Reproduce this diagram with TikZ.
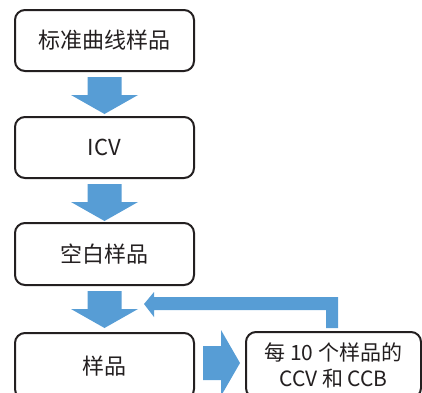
\documentclass[tikz,border=0pt]{standalone}
\usepackage{fontspec}
\setmainfont{Noto Sans CJK SC}
\usetikzlibrary{calc}
\definecolor{boxline}{RGB}{35,31,32}
\definecolor{arrowblue}{RGB}{87,157,213}
\definecolor{textc}{RGB}{35,31,32}
\begin{document}
\begin{tikzpicture}[x=1pt,y=-1pt,
  box/.style={draw=boxline, line width=2pt, rounded corners=10pt, fill=white,
    inner sep=0pt, text=textc},
  bigtxt/.style={font=\fontsize{22}{26}\selectfont},
  smalltxt/.style={font=\fontsize{21}{26}\selectfont, align=center},
  blk/.style={fill=arrowblue, draw=none}]
\useasboundingbox (0,0) rectangle (422,392);
\begin{scope}
\clip (0,0) rectangle (422,392);
\node[box, bigtxt, minimum width=179pt, minimum height=61pt] (b1) at (104.5,40.5) {标准曲线样品};
\node[box, bigtxt, minimum width=179pt, minimum height=61pt] (b2) at (104.5,147.5) {ICV};
\node[box, bigtxt, minimum width=179pt, minimum height=62pt] (b3) at (104.5,254) {空白样品};
\node[box, bigtxt, minimum width=179pt, minimum height=66pt] (b4) at (104.5,366) {样品};
\node[box, smalltxt, minimum width=175pt, minimum height=66pt] (b5) at (333.5,365) {每 10 个样品的\\CCV 和 CCB};
% down arrows
\foreach \a in {b1,b2,b3}{
  \begin{scope}[shift={($(\a.south)+(0,5)$)}]
    \fill[blk] (-17,0) -- (17,0) -- (17,18) -- (33.5,18) -- (0,37) -- (-33.5,18) -- (-17,18) -- cycle;
  \end{scope}
}
% right arrow
\begin{scope}[shift={($(b4.east)+(8,-3)$)}]
  \fill[blk] (0,-17) -- (18,-17) -- (18,-33) -- (37,0) -- (18,33) -- (18,17) -- (0,17) -- cycle;
\end{scope}
% feedback arrow
\begin{scope}[shift={($(b5.north)+(-1.5,-3)$)}]
  \fill[blk] (6,0) -- (6,-31) -- (-178,-31) -- (-178,-36) -- (-188,-24) -- (-178,-11) -- (-178,-18) -- (-6,-18) -- (-6,0) -- cycle;
\end{scope}
\end{scope}
\end{tikzpicture}
\end{document}
